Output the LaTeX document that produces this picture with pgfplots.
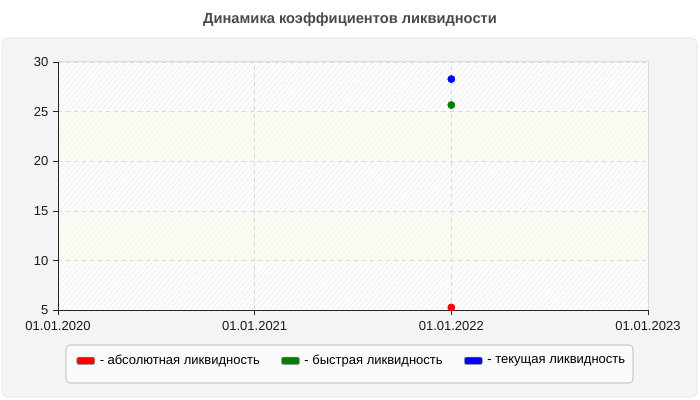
\documentclass[border=0pt]{standalone}
\usepackage{pgfplots}
\pgfplotsset{compat=1.18}
\usepackage{fontspec}
\setmainfont{Liberation Sans}
\usetikzlibrary{patterns.meta,calc}

\definecolor{panel}{HTML}{F4F4F4}
\definecolor{panelborder}{HTML}{E2E2E2}
\definecolor{titlegray}{HTML}{4A4A4A}
\definecolor{legendfill}{HTML}{FAFAFA}
\definecolor{legendborder}{HTML}{A8A8A8}
\definecolor{gridgray}{HTML}{D8D8D8}
\definecolor{bandyellow}{HTML}{FCFCF4}
\definecolor{hatch}{HTML}{EBEBEB}
\definecolor{hatchlight}{HTML}{F3F3EC}
\definecolor{frame}{HTML}{DDDDDD}

\pgfplotsset{
  swatch/.style={legend image code/.code={\draw[fill=#1, draw=gray!80, rounded corners=1.5pt, line width=0.5pt] (0pt,-2.8pt) rectangle (13.5pt,2.8pt);}},
}
\newcommand{\band}[2]{%
  \fill[bandyellow] ($(path picture bounding box.south west)!#1!(path picture bounding box.north west)$)
     rectangle ($(path picture bounding box.south east)!#2!(path picture bounding box.north east)$);
  \fill[pattern={Lines[angle=50,distance=3pt,line width=0.4pt]}, pattern color=hatchlight]
     ($(path picture bounding box.south west)!#1!(path picture bounding box.north west)$)
     rectangle ($(path picture bounding box.south east)!#2!(path picture bounding box.north east)$);}

\begin{document}
\begin{tikzpicture}
\fill[white] (0pt,0pt) rectangle (525pt,300pt);
\filldraw[fill=panel, draw=panelborder, rounded corners=4pt] (1.5pt,2.25pt) rectangle (522.75pt,271.5pt);
\node[font=\bfseries\fontsize{11}{13}\selectfont, text=titlegray] at (262.5pt,285pt) {Динамика коэффициентов ликвидности};
\filldraw[fill=legendfill, draw=legendborder, rounded corners=3pt] (49.5pt,12.75pt) rectangle (474.75pt,41.25pt);

\begin{axis}[
    at={(43.5pt,67.2pt)}, anchor=south west,
    scale only axis,
    width=442.5pt, height=186.3pt,
    xmin=0, xmax=3, ymin=5, ymax=30,
    xtick={0,1,2,3},
    xticklabels={01.01.2020,01.01.2021,01.01.2022,01.01.2023},
    ytick={5,10,15,20,25,30},
    axis background/.style={fill=white, draw=frame, line width=0.75pt,
      path picture={
        \fill[pattern={Lines[angle=50,distance=3pt,line width=0.5pt]}, pattern color=hatch]
          (path picture bounding box.south west) rectangle (path picture bounding box.north east);
        \band{0.2}{0.4}
        \band{0.6}{0.8}
      }},
    axis x line=bottom, axis y line=left,
    axis line style={-, draw=black!85, line width=0.75pt},
    tick align=outside,
    major tick length=3.75pt,
    tick style={black!85, line width=0.6pt},
    grid=major,
    major grid style={gridgray, dashed, line width=0.6pt},
    ticklabel style={font=\fontsize{9.75}{11}\selectfont, text=black!90},
    /pgf/number format/assume math mode=true,
    xticklabel style={yshift=-1pt},
    legend style={at={(0.024,-0.203)}, anchor=west, draw=none, fill=none,
        font=\fontsize{9.75}{11}\selectfont, legend columns=3,
        /tikz/every odd column/.style={column sep=1.5pt},
        /tikz/every even column/.append style={column sep=14pt}},
    legend cell align=left,
]
\addplot[only marks, mark=*, mark size=2.7pt, color=red, swatch=red]
    coordinates {(2,5.3)};
\addlegendentry{- абсолютная ликвидность}
\addplot[only marks, mark=*, mark size=2.7pt, color=green!50!black, swatch=green!50!black]
    coordinates {(2,25.67)};
\addlegendentry{- быстрая ликвидность}
\addplot[only marks, mark=*, mark size=2.7pt, color=blue, swatch=blue]
    coordinates {(2,28.28)};
\addlegendentry{- текущая ликвидность}
\end{axis}
\end{tikzpicture}
\end{document}
